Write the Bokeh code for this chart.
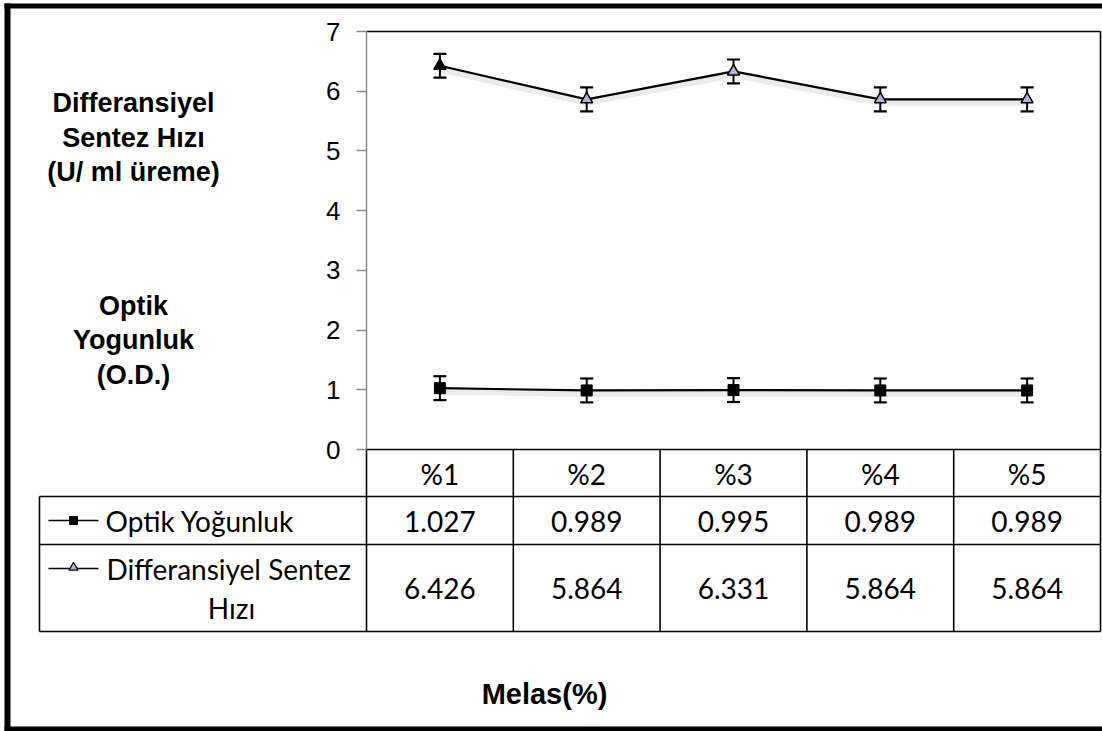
from bokeh.plotting import figure
from bokeh.models import Range1d, LinearAxis, FixedTicker, Whisker, TeeHead, ColumnDataSource
from bokeh.embed import file_html
from bokeh.resources import INLINE
from bokeh.core.properties import value

# ---------------- data ----------------
categories = ["%1", "%2", "%3", "%4", "%5"]
optik_yogunluk = [1.027, 0.989, 0.995, 0.989, 0.989]
optik_err = [0.2, 0.2, 0.2, 0.2, 0.2]
diff_sentez = [6.426, 5.864, 6.331, 5.864, 5.864]
diff_err = [0.2, 0.2, 0.2, 0.2, 0.2]
y_ticks = [0, 1, 2, 3, 4, 5, 6, 7]
row_label_1 = "Optik Yoğunluk"
row_label_2 = ["Differansiyel Sentez", "Hızı"]
title_upper = ["Differansiyel", "Sentez Hızı", "(U/ ml üreme)"]
title_lower = ["Optik", "Yogunluk", "(O.D.)"]
x_title = "Melas(%)"

# ---------------- layout (reference pixel positions) ----------------
W, H = 1102, 731
OX, OY = 0, 0
PL, PR, PT, PB = 366, 1100, 31, 449  # plot area
Y_MIN, Y_MAX = 0, 7
n = len(categories)
xs = (PR - PL) / n
ys = (PB - PT) / (Y_MAX - Y_MIN)
x_start = 0.5 - (PL - OX) / xs
x_end = x_start + W / xs
y_start = Y_MIN - (OY + H - PB) / ys
y_end = y_start + H / ys
shadow_off = 3 / ys

TL = 39
R0, R1, R2, R3 = 449, 496, 544, 631
MARK_FILL = "#bcaed8"
TABLE_FONT = value("Lato")
TABLE_SIZE = "28px"

p = figure(width=W, height=H, x_range=Range1d(x_start, x_end), y_range=Range1d(y_start, y_end),
           output_backend="svg", toolbar_location=None, x_axis_location=None, y_axis_location=None,
           min_border=0, outline_line_color=None, background_fill_color="white",
           border_fill_color="white")
p.grid.visible = False
p.extra_x_ranges = {"px": Range1d(OX, OX + W)}
p.extra_y_ranges = {"px": Range1d(OY + H, OY),
                    "shadow": Range1d(y_start + shadow_off, y_end + shadow_off)}

# ---------------- axes ----------------
yaxis = LinearAxis(fixed_location=0.5, bounds=(Y_MIN, Y_MAX), ticker=FixedTicker(ticks=y_ticks))
yaxis.axis_line_color = "#8a8a8a"
yaxis.axis_line_width = 1.5
yaxis.major_tick_line_color = "#8a8a8a"
yaxis.major_tick_line_width = 1.5
yaxis.major_tick_out = 10
yaxis.major_tick_in = 0
yaxis.minor_tick_line_color = None
yaxis.major_label_standoff = 16
yaxis.major_label_text_font = "Liberation Sans"
yaxis.major_label_text_font_size = "26px"
yaxis.major_label_text_color = "black"
p.add_layout(yaxis, "left")

xaxis = LinearAxis(fixed_location=0, bounds=(0.5, n + 0.5),
                   ticker=FixedTicker(ticks=list(range(1, n + 1))),
                   major_label_overrides={i + 1: c for i, c in enumerate(categories)})
xaxis.axis_line_color = None
xaxis.major_tick_line_color = None
xaxis.minor_tick_line_color = None
xaxis.major_tick_out = 0
xaxis.major_label_standoff = 7
xaxis.major_label_text_font = "Lato"
xaxis.major_label_text_font_size = TABLE_SIZE
xaxis.major_label_text_color = "black"
p.add_layout(xaxis, "below")

# ---------------- series ----------------
xpos = list(range(1, n + 1))
src = ColumnDataSource(dict(
    x=xpos,
    od=optik_yogunluk,
    od_lo=[v - e for v, e in zip(optik_yogunluk, optik_err)],
    od_hi=[v + e for v, e in zip(optik_yogunluk, optik_err)],
    ds=diff_sentez,
    ds_lo=[v - e for v, e in zip(diff_sentez, diff_err)],
    ds_hi=[v + e for v, e in zip(diff_sentez, diff_err)],
    ds_fill=["black"] + [MARK_FILL] * (n - 1),
))

for col in ("od", "ds"):
    p.line("x", col, source=src, y_range_name="shadow", line_color="black", line_alpha=0.08, line_width=7)
    p.line("x", col, source=src, line_color="black", line_width=2.2)

for lo, hi in (("od_lo", "od_hi"), ("ds_lo", "ds_hi")):
    w = Whisker(source=src, base="x", lower=lo, upper=hi, line_color="black", line_width=2,
                upper_head=TeeHead(size=13, line_width=2.2, line_color="black"),
                lower_head=TeeHead(size=13, line_width=2.2, line_color="black"))
    p.add_layout(w)

p.scatter("x", "od", source=src, marker="square", size=11, fill_color="black", line_color="black")
p.scatter("x", "ds", source=src, marker="triangle", size=12, fill_color="ds_fill",
          line_color="black", line_width=1.5)

# ---------------- frame & data table ----------------
p.segment(x0=[PL, TL, TL, TL, PL], y0=[PB, R1, R2, R3, PT],
          x1=[PR, PR, PR, PR, PR], y1=[PB, R1, R2, R3, PT],
          x_range_name="px", y_range_name="px", line_color="black", line_width=1.6)
p.segment(x0=[TL], y0=[R1], x1=[TL], y1=[R3], x_range_name="px", y_range_name="px",
          line_color="black", line_width=1.6)
bounds_x = [i + 0.5 for i in range(n)]
p.segment(x0=bounds_x, y0=[R0] * n, x1=bounds_x, y1=[R3] * n, y_range_name="px",
          line_color="black", line_width=1.6)
p.segment(x0=[n + 0.5], y0=[PT], x1=[n + 0.5], y1=[R3], y_range_name="px",
          line_color="black", line_width=1.6)

# values in table
p.text(x=xpos, y=[521] * n, text=[f"{v:.3f}" for v in optik_yogunluk], y_range_name="px",
       text_font=TABLE_FONT, text_font_size=TABLE_SIZE, text_align="center",
       text_baseline="alphabetic", text_color="black")
p.text(x=xpos, y=[588] * n, text=[f"{v:.3f}" for v in diff_sentez], y_range_name="px",
       text_font=TABLE_FONT, text_font_size=TABLE_SIZE, text_align="center",
       text_baseline="alphabetic", text_color="black")

# row labels with legend keys
p.segment(x0=[48, 48], y0=[520, 568], x1=[98, 98], y1=[520, 568], x_range_name="px",
          y_range_name="px", line_color="black", line_width=1.6)
p.scatter(x=[73], y=[520], marker="square", size=8, fill_color="black", line_color="black",
          x_range_name="px", y_range_name="px")
p.scatter(x=[73], y=[567], marker="triangle", size=9, fill_color=MARK_FILL, line_color="black",
          line_width=1.2, x_range_name="px", y_range_name="px")
p.text(x=[105, 106], y=[520, 568], text=[row_label_1, row_label_2[0]], x_range_name="px",
       y_range_name="px", text_font=TABLE_FONT, text_font_size=TABLE_SIZE, text_align="left",
       text_baseline="alphabetic", text_color="black")
p.text(x=[231], y=[607], text=[row_label_2[1]], x_range_name="px", y_range_name="px",
       text_font=TABLE_FONT, text_font_size=TABLE_SIZE, text_align="center",
       text_baseline="alphabetic", text_color="black")

# axis titles
p.text(x=[133] * 3, y=[102, 137, 171], text=title_upper, x_range_name="px", y_range_name="px",
       text_font=value("Liberation Sans"), text_font_size="27px", text_font_style="bold",
       text_align="center", text_baseline="alphabetic", text_color="black")
p.text(x=[133] * 3, y=[305, 339, 374], text=title_lower, x_range_name="px", y_range_name="px",
       text_font=value("Liberation Sans"), text_font_size="27px", text_font_style="bold",
       text_align="center", text_baseline="alphabetic", text_color="black")
p.text(x=[544], y=[693], text=[x_title], x_range_name="px", y_range_name="px",
       text_font=value("Liberation Sans"), text_font_size="29px", text_font_style="bold",
       text_align="center", text_baseline="alphabetic", text_color="black")

# outer chart border
p.segment(x0=[7, 4, 4], y0=[3, 5.5, 728.5], x1=[7, W, W], y1=[731, 5.5, 728.5],
          x_range_name="px", y_range_name="px", line_color="black", line_width=[6, 5, 5])

open("out.html", "w").write(file_html(p, INLINE))
